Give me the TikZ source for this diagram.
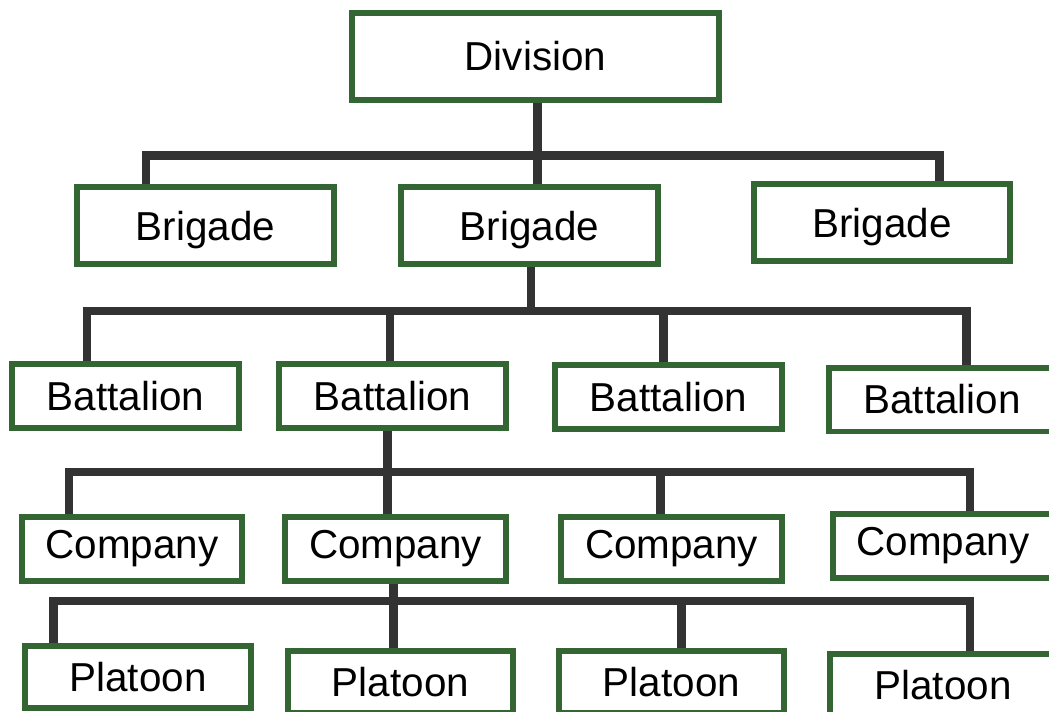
\documentclass[tikz,border=0pt]{standalone}
\usepackage{fontspec}
\setmainfont{Liberation Sans}
\usepackage{xcolor}
\usetikzlibrary{positioning}

\definecolor{unitgreen}{HTML}{336633}
\definecolor{linkgray}{HTML}{333333}

\begin{document}
\begin{tikzpicture}[
  x=0.02cm, y=-0.02cm,
  every node/.style={font=\fontsize{23}{28}\selectfont},
  unit/.style={draw=unitgreen, line width=3.4pt, fill=white, inner sep=0pt},
  divbox/.style={unit, minimum width=7.34cm, minimum height=1.74cm},
  brigbox/.style={unit, minimum width=5.14cm, minimum height=1.54cm, text depth=0pt},
  batbox/.style={unit, minimum width=4.54cm, minimum height=1.28cm},
  compbox/.style={unit, minimum width=4.42cm, minimum height=1.28cm},
  platbox/.style={unit, minimum width=4.52cm, minimum height=1.24cm},
  link/.style={draw=linkgray, line width=4.8pt}
]
\useasboundingbox (0,0) rectangle (1049,711);
\clip (0,0) rectangle (1049,711);

\node[divbox]   (div)   at (535.5,56.5)  {Division};

\node[brigbox]  (brigA) at (205.5,225.5) {Brigade};
\node[brigbox]  (brigB) at (529.5,225.5) {Brigade};
\node[brigbox]  (brigC) at (882,222.5)   {Brigade};

\node[batbox]   (batA)  at (125.5,396)   {Battalion};
\node[batbox]   (batB)  at (392.5,396)   {Battalion};
\node[batbox]   (batC)  at (668.5,397)   {Battalion};
\node[batbox]   (batD)  at (942,399.5)   {Battalion};

\node[compbox]  (compA) at (132,549)     {Company};
\node[compbox]  (compB) at (395.5,549)   {Company};
\node[compbox]  (compC) at (671.5,549)   {Company};
\node[compbox]  (compD) at (943,546)     {Company};

\node[platbox]  (platA) at (138,677)     {Platoon};
\node[platbox]  (platB) at (400.5,682)   {Platoon};
\node[platbox]  (platC) at (671.5,682)   {Platoon};
\node[platbox]  (platD) at (943,685)     {Platoon};

% bus junctions
\coordinate (tA) at (146,155.5);
\coordinate (tB) at (537.5,155.5);
\coordinate (tC) at (939.5,155.5);

\coordinate (bUp) at (531,311);
\coordinate (bA) at (87,311);
\coordinate (bB) at (390,311);
\coordinate (bC) at (663.5,311);
\coordinate (bD) at (966.5,311);

\coordinate (cA) at (69,472);
\coordinate (cB) at (387.5,472);
\coordinate (cC) at (660.5,472);
\coordinate (cD) at (970,472);

\coordinate (pA) at (53.5,601);
\coordinate (pB) at (393.5,601);
\coordinate (pC) at (681.5,601);
\coordinate (pD) at (970,601);

% division -> brigades
\draw[link] (div.south -| tB) -- (brigB.north -| tB);
\draw[link] (brigA.north -| tA) -- (tA) -- (tC) -- (brigC.north -| tC);

% brigade -> battalions
\draw[link] (brigB.south -| bUp) -- (bUp);
\draw[link] (batA.north -| bA) -- (bA) -- (bD) -- (batD.north -| bD);
\draw[link] (bB) -- (batB.north -| bB);
\draw[link] (bC) -- (batC.north -| bC);

% battalion -> companies
\draw[link] (batB.south -| cB) -- (compB.north -| cB);
\draw[link] (compA.north -| cA) -- (cA) -- (cD) -- (compD.north -| cD);
\draw[link] (cC) -- (compC.north -| cC);

% company -> platoons
\draw[link] (compB.south -| pB) -- (platB.north -| pB);
\draw[link] (platA.north -| pA) -- (pA) -- (pD) -- (platD.north -| pD);
\draw[link] (pC) -- (platC.north -| pC);
\end{tikzpicture}
\end{document}
